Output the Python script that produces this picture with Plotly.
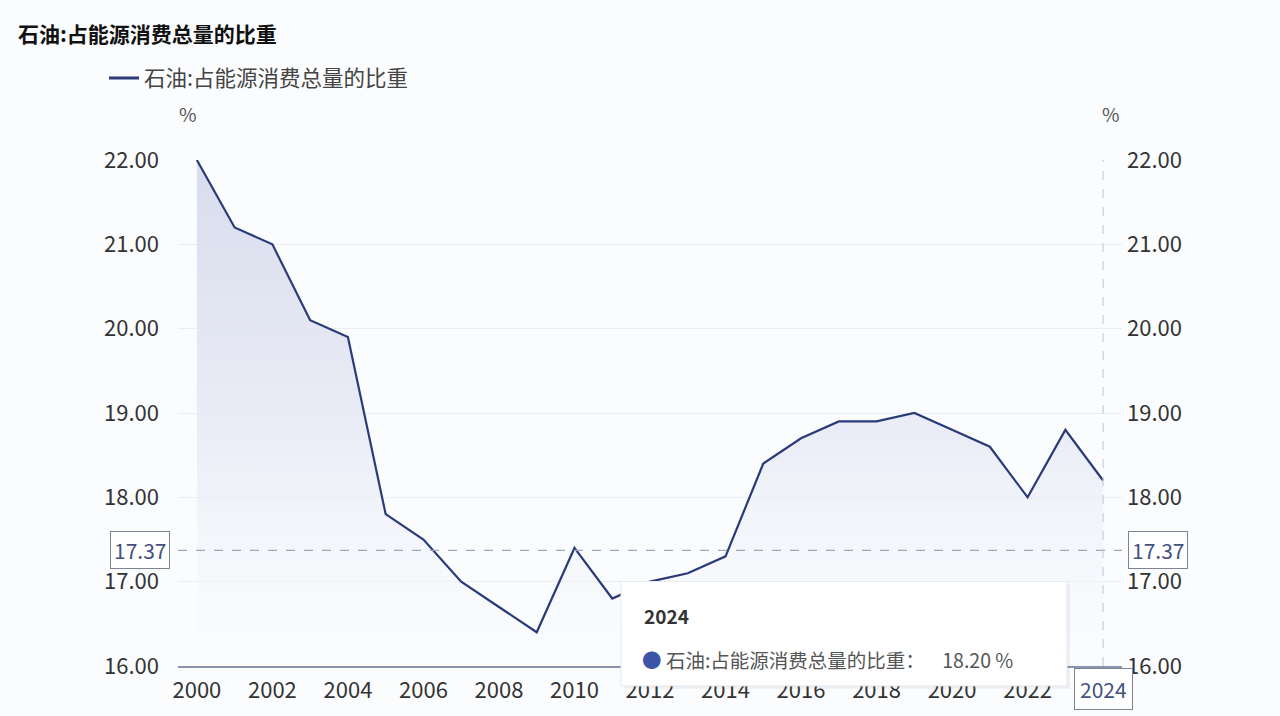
import plotly.graph_objects as go

years = list(range(2000, 2025))
share = [22.0, 21.2, 21.0, 20.1, 19.9, 17.8, 17.5, 17.0, 16.7, 16.4, 17.4, 16.8, 17.0,
         17.1, 17.3, 18.4, 18.7, 18.9, 18.9, 19.0, 18.8, 18.6, 18.0, 18.8, 18.2]
series_name = "石油:占能源消费总量的比重"
mark_value = 17.37
hover_year = 2024
y_ticks = [16, 17, 18, 19, 20, 21, 22]

FONT = "Noto Sans CJK SC"
W, H = 1280, 716
L, R, T, B = 178, 1122, 160, 669


def px(x):
    return (x - L) / (R - L)


def py(y):
    return (B - y) / (B - T)


hover_value = share[years.index(hover_year)]

fig = go.Figure()
fig.add_trace(go.Scatter(
    x=years, y=share, mode="lines", name=series_name, showlegend=False,
    line=dict(color="#2b3a78", width=2.2),
    fill="tozeroy",
    fillgradient=dict(type="vertical", start=y_ticks[0], stop=y_ticks[-1],
                      colorscale=[[0, "rgba(250,251,254,0.3)"], [0.45, "rgba(233,236,246,0.9)"],
                                  [1, "rgba(214,219,236,0.95)"]]),
    hoverinfo="skip",
))
# legend entry (same series, thicker legend stroke)
fig.add_trace(go.Scatter(
    x=[None], y=[None], mode="lines", name=series_name,
    line=dict(color="#2b3a78", width=3), hoverinfo="skip",
))
fig.add_trace(go.Scatter(
    x=years, y=share, yaxis="y2", mode="lines", showlegend=False,
    line=dict(width=0, color="rgba(0,0,0,0)"), hoverinfo="skip",
))

# mark line (dashed)
fig.add_shape(type="line", xref="paper", yref="y", x0=0, x1=1, y0=mark_value, y1=mark_value,
              line=dict(color="#9ea9bb", width=1.2, dash="dash"), layer="above")
# axis pointer vertical line
fig.add_shape(type="line", xref="x", yref="paper", x0=hover_year, x1=hover_year, y0=0, y1=1,
              line=dict(color="#c8cfdb", width=1.2, dash="dash"), layer="above")

common = dict(font=dict(family=FONT, size=21, color="#44507e"), bgcolor="#ffffff",
              bordercolor="#7d8494", borderwidth=1, showarrow=False)
fig.add_annotation(x=px(140), y=mark_value, xref="paper", yref="y", text=f"{mark_value:.2f}",
                   xanchor="center", yanchor="middle", borderpad=3, **common)
fig.add_annotation(x=px(1158), y=mark_value, xref="paper", yref="y", text=f"{mark_value:.2f}",
                   xanchor="center", yanchor="middle", borderpad=3, **common)
fig.add_annotation(x=hover_year, y=py(692), xref="x", yref="paper", text=str(hover_year),
                   xanchor="center", yanchor="middle", borderpad=5, **common)

# unit labels
for xx in (188, 1111):
    fig.add_annotation(x=px(xx), y=py(113), xref="paper", yref="paper", text="%", showarrow=False,
                       font=dict(family=FONT, size=19, color="#555"), xanchor="center", yanchor="middle")

# tooltip box
fig.add_shape(type="rect", xref="paper", yref="paper", x0=px(624), x1=px(1070), y0=py(692), y1=py(587),
              fillcolor="rgba(120,130,150,0.10)", line=dict(width=0), layer="above")
fig.add_shape(type="rect", xref="paper", yref="paper", x0=px(621), x1=px(1067), y0=py(689), y1=py(584),
              fillcolor="#ffffff", line=dict(color="#e6e9ef", width=1), layer="above")
fig.add_annotation(x=px(642), y=py(618), xref="paper", yref="paper", text=f"<b>{hover_year}</b>",
                   showarrow=False, xanchor="left", yanchor="middle",
                   font=dict(family=FONT, size=19, color="#333"))
fig.add_annotation(x=px(640), y=py(662), xref="paper", yref="paper",
                   text=f"<span style='color:#3d55a6'>●</span> {series_name}：    {hover_value:.2f} %",
                   showarrow=False, xanchor="left", yanchor="middle",
                   font=dict(family=FONT, size=19.5, color="#555"))

axis_font = dict(family=FONT, size=22, color="#333")
fig.update_layout(
    width=W, height=H,
    margin=dict(l=L, r=W - R, t=T, b=H - B),
    paper_bgcolor="#fbfcfe", plot_bgcolor="#fbfcfe",
    title=dict(text=f"<b>{series_name}</b>", xref="container", yref="container",
               x=18 / W, y=1 - 35 / H, xanchor="left", yanchor="middle",
               font=dict(family=FONT, size=21, color="#111")),
    legend=dict(xref="container", yref="container", x=104 / W, y=1 - 78 / H,
                xanchor="left", yanchor="middle", orientation="h",
                font=dict(family=FONT, size=21.5, color="#444"), bgcolor="rgba(0,0,0,0)"),
    xaxis=dict(range=[years[0] - 0.5, years[-1] + 0.5], tickmode="array",
               tickvals=years[::2], ticktext=[str(y) for y in years[::2]],
               showgrid=False, zeroline=False, showline=True, linecolor="#8a94ab", linewidth=2,
               tickfont=axis_font, ticks="", ticklabelstandoff=4),
    yaxis=dict(range=[16, 22], tickvals=y_ticks, tickformat=".2f", showgrid=True,
               gridcolor="#e9edf4", gridwidth=1, zeroline=False, showline=False,
               tickfont=axis_font, ticks="", ticklabelstandoff=18),
    yaxis2=dict(range=[16, 22], tickvals=y_ticks, tickformat=".2f", overlaying="y", side="right",
                showgrid=False, zeroline=False, showline=False, tickfont=axis_font, ticks="",
                ticklabelstandoff=4),
    showlegend=True,
)

fig.write_html("out.html", config={"displayModeBar": False},
               post_script="document.body.style.margin='0';document.body.style.overflow='hidden';")
